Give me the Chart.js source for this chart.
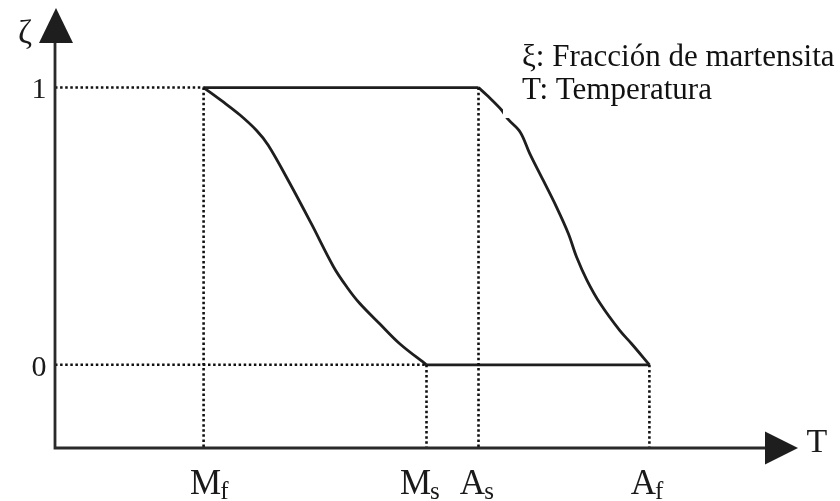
<!DOCTYPE html>
<html>
<head>
<meta charset="utf-8">
<script src="https://cdn.jsdelivr.net/npm/chart.js@4/dist/chart.umd.min.js"></script>
<style>
  html, body { margin: 0; padding: 0; background: #fff; }
  #wrap { width: 840px; height: 501px; }
</style>
</head>
<body>
<div id="wrap"><canvas id="chart" width="840" height="501"></canvas></div>
<script>
'use strict';

// Transformation temperatures (arbitrary T units)
const transitionMain = ['M', 'M', 'A', 'A'];
const transitionSub = ['f', 's', 's', 'f'];
const transitionTemps = [20, 50, 57, 80];
const transitionLevel = [1, 0, 1, 0];

// Cooling branch: Mf -> Ms
const coolingT = [20, 22.6, 24.9, 27.1, 28.7, 31.6, 34.5, 37.5, 39.3, 41.0, 43.7, 46.4, 50];
const coolingXi = [1, 0.949, 0.901, 0.846, 0.792, 0.655, 0.509, 0.353, 0.280, 0.222, 0.148, 0.076, 0];

// Heating branch: As -> Af
const heatingT = [57, 58.1, 60.1, 61.0, 62.6, 63.9, 65.7, 67.5, 69.1, 70.2, 71.6, 73.4, 76.0, 77.6, 80];
const heatingXi = [1, 0.973, 0.919, 0.885, 0.840, 0.762, 0.666, 0.569, 0.473, 0.389, 0.305, 0.220, 0.124, 0.076, 0];

// Axis ticks
const yTickValues = [0, 1];
const yTickLabels = ['0', '1'];

const legendLines = ['\u03BE: Fracci\u00F3n de martensita', 'T: Temperatura'];

const X_MIN = 0, X_MAX = 100;
const Y_MIN = -0.3, Y_MAX = 1.287;

const SERIF = '"Liberation Serif", "Times New Roman", serif';
const INK = '#1e1e1e';

function pts(xs, ys) {
  return xs.map((x, i) => ({ x, y: ys[i] }));
}

function solid(data, curved) {
  return {
    data,
    borderColor: INK,
    borderWidth: 2.8,
    pointRadius: 0,
    fill: false,
    tension: curved ? 0.35 : 0,
  };
}

function dotted(data) {
  return {
    data,
    borderColor: '#111',
    borderWidth: 2.6,
    borderDash: [2.5, 2.6],
    pointRadius: 0,
    fill: false,
    tension: 0,
  };
}

const datasets = [];

// guide lines: horizontal from axis to Mf (xi=1) and to Ms (xi=0)
datasets.push(dotted([{ x: X_MIN, y: 1 }, { x: transitionTemps[0], y: 1 }]));
datasets.push(dotted([{ x: X_MIN, y: 0 }, { x: transitionTemps[1], y: 0 }]));
// vertical guides down to the T axis
transitionTemps.forEach((t, i) => {
  datasets.push(dotted([{ x: t, y: transitionLevel[i] }, { x: t, y: Y_MIN }]));
});

// hysteresis loop
datasets.push(solid([{ x: transitionTemps[0], y: 1 }, { x: transitionTemps[2], y: 1 }], false));
datasets.push(solid([{ x: transitionTemps[1], y: 0 }, { x: transitionTemps[3], y: 0 }], false));
datasets.push(solid(pts(coolingT, coolingXi), true));
datasets.push(solid(pts(heatingT, heatingXi), true));

// Axes with arrow heads, tick labels and the legend box
const annotate = {
  id: 'annotate',
  afterDatasetsDraw(chart) {
    const { ctx, scales: { x, y } } = chart;
    const x0 = x.getPixelForValue(X_MIN);
    const xEnd = x.getPixelForValue(X_MAX);
    const y0 = y.getPixelForValue(Y_MIN);
    const yEnd = y.getPixelForValue(Y_MAX);

    ctx.save();
    ctx.strokeStyle = '#2a2a2a';
    ctx.fillStyle = '#1e1e1e';
    ctx.lineWidth = 2.8;

    // axis lines
    ctx.beginPath();
    ctx.moveTo(x0, yEnd + 34);
    ctx.lineTo(x0, y0);
    ctx.lineTo(xEnd - 32, y0);
    ctx.stroke();

    // arrow heads
    ctx.beginPath();
    ctx.moveTo(x0 + 1, yEnd);
    ctx.lineTo(x0 + 18, yEnd + 35);
    ctx.lineTo(x0 - 16, yEnd + 35);
    ctx.closePath();
    ctx.fill();

    ctx.beginPath();
    ctx.moveTo(xEnd, y0);
    ctx.lineTo(xEnd - 33, y0 - 16.5);
    ctx.lineTo(xEnd - 33, y0 + 16.5);
    ctx.closePath();
    ctx.fill();

    // axis titles
    ctx.fillStyle = '#1a1a1a';
    ctx.textAlign = 'center';
    ctx.textBaseline = 'alphabetic';
    ctx.font = '34px ' + SERIF;
    ctx.fillText('\u03B6', 25, 43);
    ctx.font = '34px ' + SERIF;
    ctx.fillText('T', 817, 452);

    // y tick labels
    ctx.font = '30px ' + SERIF;
    ctx.textBaseline = 'middle';
    yTickValues.forEach((v, i) => {
      ctx.fillText(yTickLabels[i], 39, y.getPixelForValue(v) + 3);
    });

    // transformation temperature labels
    ctx.textBaseline = 'alphabetic';
    const nudge = [2, -11, -6, -6];
    transitionTemps.forEach((t, i) => {
      const px = x.getPixelForValue(t) + nudge[i];
      ctx.font = '35px ' + SERIF;
      const mw = ctx.measureText(transitionMain[i]).width;
      ctx.textAlign = 'left';
      ctx.fillText(transitionMain[i], px - mw / 2, 494);
      ctx.font = '25px ' + SERIF;
      ctx.fillText(transitionSub[i], px + mw / 2 - 1, 499);
    });

    // legend box (white, hides part of the heating branch)
    ctx.fillStyle = '#fff';
    ctx.fillRect(503, 0, 337, 118);
    ctx.fillStyle = '#111';
    ctx.font = '31px ' + SERIF;
    ctx.textAlign = 'left';
    ctx.fillText(legendLines[0], 522, 66);
    ctx.fillText(legendLines[1], 522, 99);

    ctx.restore();
  },
};

new Chart(document.getElementById('chart'), {
  type: 'line',
  data: { datasets },
  options: {
    responsive: false,
    animation: false,
    layout: { padding: { left: 55, right: 42, top: 8, bottom: 53 } },
    plugins: {
      legend: { display: false },
      tooltip: { enabled: false },
    },
    scales: {
      x: { type: 'linear', display: false, min: X_MIN, max: X_MAX },
      y: { type: 'linear', display: false, min: Y_MIN, max: Y_MAX },
    },
  },
  plugins: [annotate],
});
</script>
</body>
</html>
